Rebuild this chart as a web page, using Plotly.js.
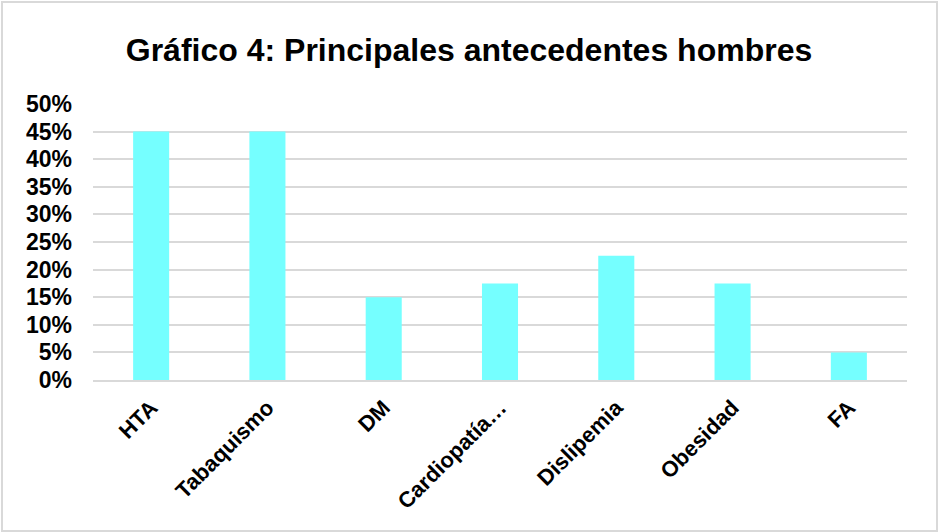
<!DOCTYPE html>
<html>
<head>
<meta charset="utf-8">
<script src="https://cdn.plot.ly/plotly-3.0.1.min.js"></script>
<style>
  html, body { margin: 0; padding: 0; background: #fff; }
  #wrap { position: relative; width: 938px; height: 532px; }
  #chart { position: absolute; left: 0; top: 0; width: 938px; height: 532px; }
  #frame { position: absolute; left: 1px; top: 1px; width: 933px; height: 527px; border: 2px solid #d9d9d9; pointer-events: none; }
</style>
</head>
<body>
<div id="wrap"><div id="chart"></div><div id="frame"></div></div>
<script>
const categories = ["HTA", "Tabaquismo", "DM", "Cardiopatía…", "Dislipemia", "Obesidad", "FA"];
const values = [0.45, 0.45, 0.15, 0.175, 0.225, 0.175, 0.05];
const tickValues = [0, 0.05, 0.10, 0.15, 0.20, 0.25, 0.30, 0.35, 0.40, 0.45, 0.50];
const tickLabels = ["0%", "5%", "10%", "15%", "20%", "25%", "30%", "35%", "40%", "45%", "50%"];

const font = "Liberation Sans, Arial, sans-serif";

Plotly.newPlot("chart", [{
  type: "bar",
  x: categories,
  y: values,
  marker: { color: "#75FFFF" },
  hoverinfo: "x+y"
}], {
  width: 938,
  height: 532,
  margin: { l: 93, r: 31, t: 104, b: 152 },
  paper_bgcolor: "#ffffff",
  plot_bgcolor: "#ffffff",
  bargap: 0.69,
  showlegend: false,
  title: {
    text: "<b>Gráfico 4: Principales antecedentes hombres</b>",
    font: { family: font, size: 32, color: "#000000" },
    x: 0.5, xanchor: "center",
    y: 0.906, yanchor: "middle"
  },
  xaxis: {
    type: "category",
    tickangle: -45,
    tickfont: { family: font, size: 22, color: "#000000", weight: "bold" },
    showgrid: false,
    showline: true,
    linecolor: "#d9d9d9",
    linewidth: 2,
    ticks: "",
    ticklabelstandoff: 4,
    fixedrange: true
  },
  yaxis: {
    range: [0, 0.5],
    tickvals: tickValues,
    ticktext: tickLabels,
    tickfont: { family: font, size: 23, color: "#000000", weight: "bold" },
    showgrid: true,
    gridcolor: "#d9d9d9",
    gridwidth: 2,
    zeroline: false,
    showline: false,
    ticks: "",
    ticklabelstandoff: 20,
    fixedrange: true
  }
}, { displayModeBar: false, staticPlot: true });
</script>
</body>
</html>
